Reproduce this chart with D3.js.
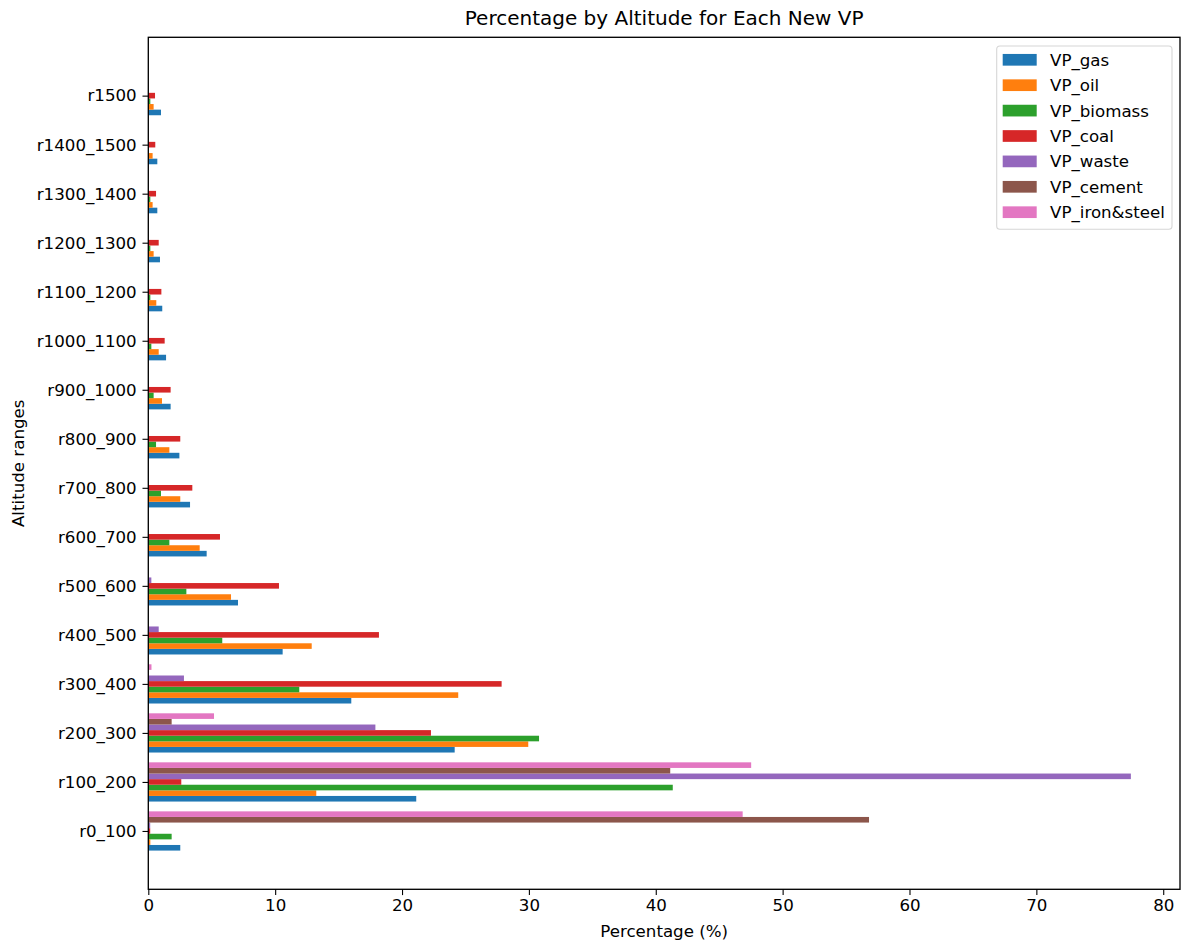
<!DOCTYPE html>
<html>
<head>
<meta charset="utf-8">
<script src="https://cdn.jsdelivr.net/npm/d3@7"></script>
<style>
  html, body { margin: 0; padding: 0; background: #fff; }
  svg { display: block; font-family: "DejaVu Sans", sans-serif; }
</style>
</head>
<body>
<svg id="chart" width="1182" height="941"></svg>
<script>
// Altitude ranges, bottom to top
const categories = ["r0_100", "r100_200", "r200_300", "r300_400", "r400_500", "r500_600",
  "r600_700", "r700_800", "r800_900", "r900_1000", "r1000_1100", "r1100_1200",
  "r1200_1300", "r1300_1400", "r1400_1500", "r1500"];

const seriesNames = ["VP_gas", "VP_oil", "VP_biomass", "VP_coal", "VP_waste", "VP_cement", "VP_iron&steel"];
const seriesColors = ["#1f77b4", "#ff7f0e", "#2ca02c", "#d62728", "#9467bd", "#8c564b", "#e377c2"];

// Percentage per altitude range, one array per VP source
const vpGas      = [2.52, 21.12, 24.15, 16.0, 10.59, 7.07, 4.6, 3.29, 2.45, 1.76, 1.4, 1.1, 0.92, 0.71, 0.71, 1.0];
const vpOil      = [0.16, 13.24, 29.95, 24.43, 12.88, 6.52, 4.05, 2.52, 1.66, 1.08, 0.82, 0.63, 0.42, 0.34, 0.34, 0.42];
const vpBiomass  = [1.84, 41.34, 30.8, 11.9, 5.83, 3.0, 1.66, 1.0, 0.61, 0.42, 0.24, 0.16, 0.16, 0.16, 0.05, 0.16];
const vpCoal     = [0.15, 2.6, 22.28, 27.85, 18.18, 10.3, 5.65, 3.47, 2.52, 1.76, 1.29, 1.03, 0.82, 0.61, 0.55, 0.53];
const vpWaste    = [0.15, 77.45, 17.9, 2.81, 0.82, 0.24, 0, 0, 0, 0, 0, 0, 0, 0, 0, 0];
const vpCement   = [56.81, 41.14, 1.84, 0, 0, 0, 0, 0, 0, 0, 0, 0, 0, 0, 0, 0];
const vpIronSteel = [46.85, 47.52, 5.18, 0.25, 0, 0, 0, 0, 0, 0, 0, 0, 0, 0, 0, 0];

const seriesValues = [vpGas, vpOil, vpBiomass, vpCoal, vpWaste, vpCement, vpIronSteel];
const xTicks = [0, 10, 20, 30, 40, 50, 60, 70, 80];

const svg = d3.select("#chart");
const plot = { left: 148.3, right: 1180, top: 37.3, bottom: 889.3 };

const nSeries = seriesNames.length;
const barH = 0.8 / nSeries;

// Axis limits with a 5% margin, like the default autoscale
const xMax = d3.max(seriesValues.flat()) * 1.05;
const yLo = -(nSeries / 2) * barH, yHi = categories.length - 1 + (nSeries / 2) * barH;
const yPad = (yHi - yLo) * 0.05;

const x = d3.scaleLinear().domain([0, xMax]).range([plot.left, plot.right]);
const y = d3.scaleLinear().domain([yLo - yPad, yHi + yPad]).range([plot.bottom, plot.top]);

const fontSize = 16.67;

// Bars
const bars = [];
seriesValues.forEach((vals, s) => {
  vals.forEach((v, i) => bars.push({ s, i, v }));
});
svg.append("g").selectAll("rect")
  .data(bars)
  .join("rect")
  .attr("x", x(0))
  .attr("y", d => y(d.i + (d.s - (nSeries - 1) / 2) * barH + barH / 2))
  .attr("width", d => Math.max(0, x(d.v) - x(0)))
  .attr("height", d => y(0) - y(barH))
  .attr("fill", d => seriesColors[d.s]);

// X axis
const xAxis = d3.axisBottom(x).tickValues(xTicks).tickSize(5.8).tickPadding(4.5).tickFormat(d3.format("d"));
const gx = svg.append("g").attr("transform", `translate(0,${plot.bottom})`).call(xAxis);
gx.select(".domain").remove();
gx.selectAll("line").attr("stroke", "#000").attr("stroke-width", 1.1);
gx.selectAll("text").attr("font-size", fontSize).attr("fill", "#000")
  .attr("font-family", "DejaVu Sans");

// Y axis
const yAxis = d3.axisLeft(y).tickValues(d3.range(categories.length))
  .tickFormat(i => categories[i]).tickSize(5.8).tickPadding(5.8);
const gy = svg.append("g").attr("transform", `translate(${plot.left},0)`).call(yAxis);
gy.select(".domain").remove();
gy.selectAll("line").attr("stroke", "#000").attr("stroke-width", 1.1);
gy.selectAll("text").attr("font-size", fontSize).attr("fill", "#000")
  .attr("font-family", "DejaVu Sans");

// Frame
svg.append("rect")
  .attr("x", plot.left).attr("y", plot.top)
  .attr("width", plot.right - plot.left).attr("height", plot.bottom - plot.top)
  .attr("fill", "none").attr("stroke", "#000").attr("stroke-width", 1.33);

// Title and axis labels
svg.append("text")
  .attr("x", (plot.left + plot.right) / 2).attr("y", 25)
  .attr("text-anchor", "middle").attr("font-size", 20).attr("fill", "#000")
  .text("Percentage by Altitude for Each New VP");

svg.append("text")
  .attr("x", (plot.left + plot.right) / 2).attr("y", 937)
  .attr("text-anchor", "middle").attr("font-size", fontSize).attr("fill", "#000")
  .text("Percentage (%)");

svg.append("text")
  .attr("transform", `translate(24,${(plot.top + plot.bottom) / 2}) rotate(-90)`)
  .attr("text-anchor", "middle").attr("font-size", fontSize).attr("fill", "#000")
  .text("Altitude ranges");

// Legend
const legend = svg.append("g");
legend.append("rect")
  .attr("x", 996.7).attr("y", 46).attr("width", 175.3).attr("height", 183.3)
  .attr("rx", 3.3).attr("ry", 3.3)
  .attr("fill", "#fff").attr("fill-opacity", 0.8)
  .attr("stroke", "#d6d6d6").attr("stroke-width", 1.1);
const rowPitch = 25.4;
const rows = legend.selectAll("g.row")
  .data(seriesNames)
  .join("g")
  .attr("class", "row")
  .attr("transform", (d, k) => `translate(0,${59.8 + k * rowPitch})`);
rows.append("rect")
  .attr("x", 1002.7).attr("y", -5.85).attr("width", 34).attr("height", 11.7)
  .attr("fill", (d, k) => seriesColors[k]);
rows.append("text")
  .attr("x", 1050).attr("y", 6)
  .attr("font-size", fontSize).attr("fill", "#000")
  .text(d => d);
</script>
</body>
</html>
